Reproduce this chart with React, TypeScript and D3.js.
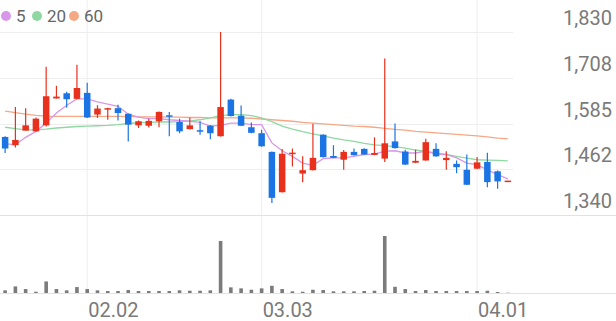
import React from "react";
import * as d3 from "d3";

const dates = [
  "01.21","01.22","01.23","01.26","01.27","01.28","01.29","01.30",
  "02.02","02.03","02.04","02.05","02.06","02.09","02.10","02.11","02.12","02.13",
  "02.19","02.20","02.23","02.24","02.25","02.26","02.27",
  "03.03","03.04","03.05","03.06","03.09","03.10","03.11","03.12","03.13",
  "03.16","03.17","03.18","03.19","03.20","03.23","03.24","03.25","03.26","03.27",
  "03.30","03.31","04.01","04.02","04.03","04.06",
];
const opens = [1549,1527,1566,1564,1580,1652,1666,1651,1667,1609,1622,1626,1611,1580,1579,1591,1607,1589,1570,1567,1579,1551,1649,1606,1575,1559,1509,1401,1503,1451,1460,1555,1498,1488,1509,1517,1501,1491,1537,1510,1480,1486,1517,1487,1477,1461,1464,1482,1457,1431];
const highs = [1551,1629,1626,1601,1737,1686,1670,1742,1694,1634,1627,1635,1612,1593,1598,1617,1616,1598,1601,1591,1581,1830,1651,1633,1588,1568,1510,1517,1518,1497,1584,1556,1527,1514,1518,1519,1548,1759,1585,1515,1515,1544,1532,1511,1486,1502,1495,1507,1459,1432];
const lows = [1506,1521,1566,1563,1577,1652,1627,1650,1600,1600,1595,1593,1537,1573,1574,1575,1551,1559,1569,1555,1543,1550,1604,1578,1559,1523,1372,1400,1470,1428,1459,1494,1492,1461,1499,1501,1500,1482,1518,1474,1479,1485,1496,1461,1452,1420,1463,1414,1410,1431];
const closes = [1518,1541,1580,1598,1658,1657,1650,1680,1601,1625,1626,1613,1582,1591,1592,1616,1603,1564,1580,1564,1559,1629,1605,1579,1560,1524,1386,1504,1507,1460,1493,1495,1493,1509,1500,1502,1506,1532,1519,1475,1485,1535,1497,1493,1468,1421,1481,1428,1430,1432];
const volumes = [270,670,400,130,1170,400,270,600,400,270,200,200,300,200,200,200,200,270,230,230,270,5270,570,470,330,470,730,400,170,130,330,300,170,170,170,200,230,5770,630,400,200,300,200,200,200,200,200,230,100,30];
const ma5 = [1531,1528,1548,1564,1586,1613,1634,1651,1651,1643,1637,1631,1610,1602,1598,1598,1595,1593,1591,1588,1578,1580,1586,1586,1582,1582,1533,1512,1497,1479,1473,1491,1493,1493,1497,1502,1503,1511,1512,1506,1506,1511,1503,1502,1493,1479,1475,1461,1448,1437];
const ma20 = [1575,1571,1568,1568,1570,1573,1575,1577,1578,1579,1580,1582,1585,1587,1588,1589,1589,1590,1592,1595,1600,1606,1609,1609,1606,1600,1590,1578,1570,1563,1557,1552,1546,1541,1537,1532,1528,1526,1523,1519,1514,1510,1506,1502,1497,1492,1488,1487,1486,1485];
const ma60 = [1618,1614,1610,1607,1605,1604,1604,1604,1604,1604,1604,1604,1604,1603,1603,1603,1602,1602,1601,1601,1600,1600,1600,1600,1599,1597,1595,1593,1591,1588,1586,1584,1582,1580,1578,1577,1575,1572,1569,1567,1564,1562,1560,1558,1556,1554,1552,1549,1546,1544];
const yTicks = [1830, 1708, 1585, 1462, 1340];
const xTicks = ["02.02", "03.03", "04.01"];
const legendItems = [
  { label: "5", color: "#d897e8" },
  { label: "20", color: "#8fd8a2" },
  { label: "60", color: "#f6a886" },
];

const W = 616;
const H = 321;
const UP = "#e8301c";
const DOWN = "#1a74e3";

export default function App() {
  const x = d3.scaleBand<string>().domain(dates).range([0, 513]);
  const bw = x.bandwidth();
  const cx = (i: number) => (x(dates[i]) as number) + bw / 2;
  const y = d3.scaleLinear().domain([1340, 1830]).range([215, 32]);
  const vy = d3.scaleLinear().domain([0, d3.max(volumes) as number]).range([293, 236]);
  const fmt = d3.format(",");

  const mkLine = (arr: number[]) =>
    d3.line<number>().x((_, i) => cx(i)).y((v) => y(v))(arr) as string;

  const bodyW = 6.5;
  const volW = 3.6;

  return (
    <svg width={W} height={H} style={{ position: "absolute", left: 0, top: 0, background: "#fff" }}
      fontFamily="Roboto, 'Noto Sans', sans-serif">
      {/* vertical grid */}
      {xTicks.map((t) => (
        <line key={"vg" + t} x1={cx(dates.indexOf(t))} x2={cx(dates.indexOf(t))} y1={0} y2={293}
          stroke="#eeeeee" strokeWidth={1} />
      ))}
      {/* horizontal grid */}
      {yTicks.slice(0, 4).map((t) => (
        <line key={"hg" + t} x1={0} x2={513} y1={Math.round(y(t)) + 0.5} y2={Math.round(y(t)) + 0.5}
          stroke="#eeeeee" strokeWidth={1} />
      ))}
      <line x1={0} x2={W} y1={Math.round(y(1340)) + 0.5} y2={Math.round(y(1340)) + 0.5} stroke="#e2e2e2" strokeWidth={1} />
      <line x1={0} x2={W} y1={293.5} y2={293.5} stroke="#e2e2e2" strokeWidth={1} />

      {/* y labels */}
      {yTicks.map((t) => (
        <text key={"yl" + t} x={612} y={y(t) - 7} textAnchor="end" fontSize={20} fill="#7a7a7a">
          {fmt(t)}
        </text>
      ))}
      {/* x labels */}
      {xTicks.map((t) => (
        <text key={"xl" + t} x={cx(dates.indexOf(t)) + 1} y={316.5} fontSize={20} fill="#7a7a7a">
          {t}
        </text>
      ))}

      {/* moving averages */}
      <path d={mkLine(ma60)} fill="none" stroke="#f6a886" strokeWidth={1.3} />
      <path d={mkLine(ma20)} fill="none" stroke="#8fd8a2" strokeWidth={1.3} />
      <path d={mkLine(ma5)} fill="none" stroke="#d897e8" strokeWidth={1.3} />

      {/* candles */}
      {dates.map((d, i) => {
        const up = closes[i] >= opens[i];
        const col = up ? UP : DOWN;
        const top = y(Math.max(opens[i], closes[i]));
        const bot = y(Math.min(opens[i], closes[i]));
        return (
          <g key={d}>
            <line x1={cx(i)} x2={cx(i)} y1={y(highs[i])} y2={y(lows[i])} stroke={col} strokeWidth={1.2} />
            <rect x={cx(i) - bodyW / 2} y={top} width={bodyW} height={Math.max(bot - top, 1.5)} fill={col} />
          </g>
        );
      })}

      {/* volume */}
      {dates.map((d, i) => (
        <rect key={"v" + d} x={cx(i) - volW / 2} y={vy(volumes[i])} width={volW}
          height={293 - vy(volumes[i])} fill="#7b7b7b" />
      ))}

      {/* legend */}
      {legendItems.map((it, k) => {
        const offs = [6, 37, 74][k];
        return (
          <g key={it.label}>
            <circle cx={offs} cy={16} r={5} fill={it.color} />
            <text x={offs + 10} y={22} fontSize={17} fill="#666">{it.label}</text>
          </g>
        );
      })}
    </svg>
  );
}
